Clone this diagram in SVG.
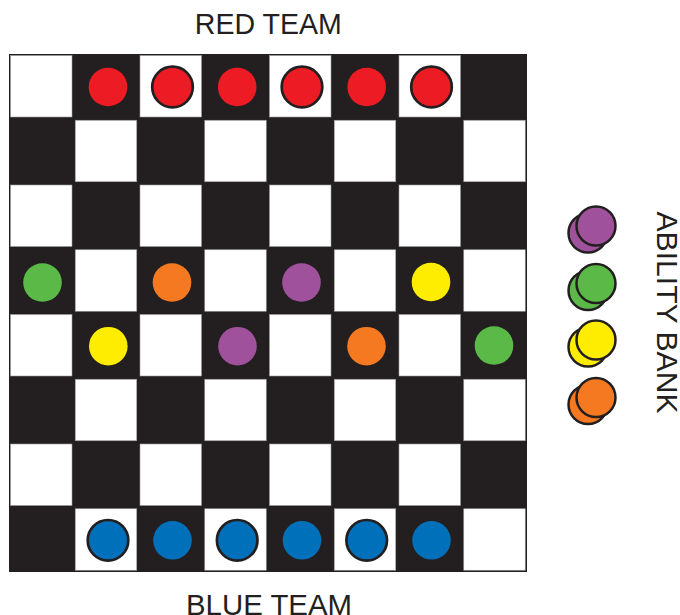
<svg xmlns="http://www.w3.org/2000/svg" width="680" height="615" viewBox="0 0 680 615">
<style>
.lbl{font-family:"Liberation Sans",Arial,sans-serif;font-size:30px;fill:#231F20;}
.dark{fill:#231F20;}
.w{fill:#FFFFFF;stroke:#9a9a9a;stroke-width:0.6;}
.pc{stroke:none;}
.pcs{stroke:#231F20;stroke-width:2.7;}
.red{fill:#ED1C24;}
.blue{fill:#0070BA;}
.green{fill:#5BB947;}
.orange{fill:#F47920;}
.purple{fill:#A0519C;}
.yellow{fill:#FFED00;}
.bank{stroke:#231F20;stroke-width:2.5;}
</style>
<rect width="680" height="615" fill="#FFFFFF"/>
<g id="board">
<rect class="dark" x="9" y="54" width="518" height="518"/>
<rect class="w" x="10.5" y="55.5" width="61.5" height="61.5"/>
<rect class="w" x="140" y="55.5" width="61.5" height="61.5"/>
<rect class="w" x="269.5" y="55.5" width="61.5" height="61.5"/>
<rect class="w" x="399" y="55.5" width="61.5" height="61.5"/>
<rect class="w" x="75.25" y="120.25" width="61.5" height="61.5"/>
<rect class="w" x="204.75" y="120.25" width="61.5" height="61.5"/>
<rect class="w" x="334.25" y="120.25" width="61.5" height="61.5"/>
<rect class="w" x="463.75" y="120.25" width="61.5" height="61.5"/>
<rect class="w" x="10.5" y="185" width="61.5" height="61.5"/>
<rect class="w" x="140" y="185" width="61.5" height="61.5"/>
<rect class="w" x="269.5" y="185" width="61.5" height="61.5"/>
<rect class="w" x="399" y="185" width="61.5" height="61.5"/>
<rect class="w" x="75.25" y="249.75" width="61.5" height="61.5"/>
<rect class="w" x="204.75" y="249.75" width="61.5" height="61.5"/>
<rect class="w" x="334.25" y="249.75" width="61.5" height="61.5"/>
<rect class="w" x="463.75" y="249.75" width="61.5" height="61.5"/>
<rect class="w" x="10.5" y="314.5" width="61.5" height="61.5"/>
<rect class="w" x="140" y="314.5" width="61.5" height="61.5"/>
<rect class="w" x="269.5" y="314.5" width="61.5" height="61.5"/>
<rect class="w" x="399" y="314.5" width="61.5" height="61.5"/>
<rect class="w" x="75.25" y="379.25" width="61.5" height="61.5"/>
<rect class="w" x="204.75" y="379.25" width="61.5" height="61.5"/>
<rect class="w" x="334.25" y="379.25" width="61.5" height="61.5"/>
<rect class="w" x="463.75" y="379.25" width="61.5" height="61.5"/>
<rect class="w" x="10.5" y="444" width="61.5" height="61.5"/>
<rect class="w" x="140" y="444" width="61.5" height="61.5"/>
<rect class="w" x="269.5" y="444" width="61.5" height="61.5"/>
<rect class="w" x="399" y="444" width="61.5" height="61.5"/>
<rect class="w" x="75.25" y="508.75" width="61.5" height="61.5"/>
<rect class="w" x="204.75" y="508.75" width="61.5" height="61.5"/>
<rect class="w" x="334.25" y="508.75" width="61.5" height="61.5"/>
<rect class="w" x="463.75" y="508.75" width="61.5" height="61.5"/>
</g>
<g id="red-pieces">
<circle class="pc red" cx="108" cy="87" r="19.3"/>
<circle class="pcs red" cx="172.5" cy="87" r="20.3"/>
<circle class="pc red" cx="237.2" cy="87" r="19.3"/>
<circle class="pcs red" cx="302" cy="87" r="20.3"/>
<circle class="pc red" cx="366.7" cy="87" r="19.3"/>
<circle class="pcs red" cx="431.5" cy="87" r="20.3"/>
</g>
<g id="blue-pieces">
<circle class="pcs blue" cx="108" cy="540.3" r="20.3"/>
<circle class="pc blue" cx="172.5" cy="540.3" r="19.3"/>
<circle class="pcs blue" cx="237.2" cy="540.3" r="20.3"/>
<circle class="pc blue" cx="302" cy="540.3" r="19.3"/>
<circle class="pcs blue" cx="366.7" cy="540.3" r="20.3"/>
<circle class="pc blue" cx="431.5" cy="540.3" r="19.3"/>
</g>
<g id="ability-pieces">
<circle class="pc green" cx="42.5" cy="282.5" r="19.3"/>
<circle class="pc orange" cx="172" cy="282.5" r="19.3"/>
<circle class="pc purple" cx="301.5" cy="282.5" r="19.3"/>
<circle class="pc yellow" cx="431" cy="282" r="19.3"/>
<circle class="pc yellow" cx="108.3" cy="346.2" r="19.3"/>
<circle class="pc purple" cx="237.5" cy="346.2" r="19.3"/>
<circle class="pc orange" cx="366.5" cy="346.2" r="19.3"/>
<circle class="pc green" cx="494" cy="345.5" r="19.3"/>
</g>
<g id="ability-bank">
<circle class="bank purple" cx="588" cy="233" r="19.5"/>
<circle class="bank purple" cx="596" cy="226" r="19.5"/>
<circle class="bank green" cx="588" cy="290.5" r="19.5"/>
<circle class="bank green" cx="596" cy="283.5" r="19.5"/>
<circle class="bank yellow" cx="588" cy="347" r="19.5"/>
<circle class="bank yellow" cx="596" cy="340" r="19.5"/>
<circle class="bank orange" cx="588" cy="404.5" r="19.5"/>
<circle class="bank orange" cx="596" cy="397.5" r="19.5"/>
</g>
<g id="labels">
<text class="lbl" x="268.3" y="34.3" text-anchor="middle" textLength="147" lengthAdjust="spacingAndGlyphs">RED TEAM</text>
<text class="lbl" x="269" y="614.5" text-anchor="middle" textLength="166" lengthAdjust="spacingAndGlyphs">BLUE TEAM</text>
<text class="lbl" transform="translate(656.7,312.5) rotate(90)" x="0" y="0" text-anchor="middle" textLength="202" lengthAdjust="spacingAndGlyphs">ABILITY BANK</text>
</g>
</svg>
